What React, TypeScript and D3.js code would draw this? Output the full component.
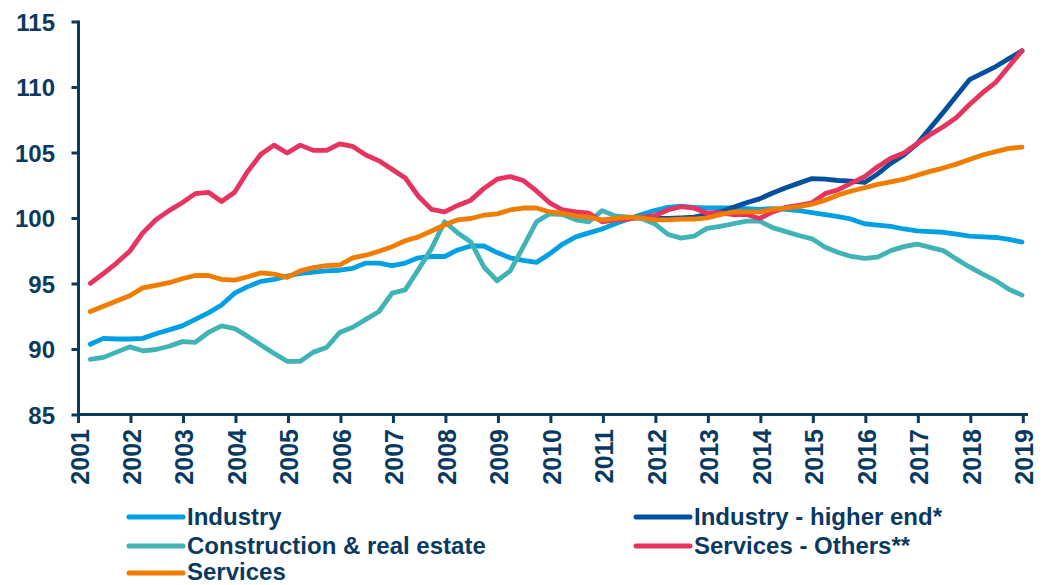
import React from "react";
import * as d3 from "d3";

const years = [2001, 2002, 2003, 2004, 2005, 2006, 2007, 2008, 2009, 2010, 2011, 2012, 2013, 2014, 2015, 2016, 2017, 2018, 2019];
const yTicks = [85, 90, 95, 100, 105, 110, 115];

// quarterly observations 2001Q1 .. 2018Q4 (index 0..71)
const quarters: string[] = [];
for (let y = 2001; y <= 2018; y++) for (let q = 1; q <= 4; q++) quarters.push(`${y}Q${q}`);

const industry = [90.4, 90.85, 90.8, 90.8, 90.85, 91.2, 91.5, 91.8, 92.3, 92.8, 93.4, 94.3, 94.8, 95.2,
  95.35, 95.6, 95.8, 95.9, 96.0, 96.05, 96.2, 96.6, 96.6, 96.4, 96.6, 97.0, 97.1, 97.1, 97.6,
  97.9, 97.9, 97.4, 97.0, 96.8, 96.65, 97.3, 98.05, 98.6, 98.9, 99.2, 99.6, 99.96, 100.3,
  100.6, 100.85, 100.95, 100.85, 100.8, 100.8, 100.8, 100.75, 100.7, 100.75, 100.7, 100.6, 100.45, 100.3, 100.15,
  99.95, 99.6, 99.5, 99.4, 99.2, 99.05, 99.0, 98.95, 98.8, 98.65, 98.6, 98.55, 98.4, 98.2];

const industryHigherEnd: (number | null)[] = [
  null, null, null, null, null, null, null, null, null, null, null, null, null, null,
  null, null, null, null, null, null, null, null, null, null, null, null, null, null,
  null, null, null, null, null, null, null, null, null, null, null, null, null, null,
  100.0, 100.0, 100.0, 100.05, 100.1, 100.3, 100.5, 100.85, 101.2, 101.5, 101.95, 102.35, 102.7, 103.05, 103.0, 102.9,
  102.85, 102.75, 103.4, 104.2, 104.85, 105.7, 106.9, 108.1, 109.35, 110.6, 111.1, 111.6, 112.2, 112.8];

const construction = [89.25, 89.4, 89.8, 90.2, 89.9, 90.0, 90.25, 90.6, 90.55, 91.3, 91.8, 91.6, 91.0, 90.35,
  89.7, 89.1, 89.1, 89.8, 90.15, 91.3, 91.7, 92.3, 92.9, 94.3, 94.55, 96.1, 97.7, 99.75, 98.9,
  98.2, 96.3, 95.25, 96.0, 97.85, 99.75, 100.35, 100.3, 99.9, 99.75, 100.6, 100.2, 100.1, 100.0,
  99.6, 98.8, 98.5, 98.65, 99.25, 99.4, 99.6, 99.8, 99.8, 99.3, 99.0, 98.7, 98.45, 97.8, 97.4,
  97.1, 96.95, 97.05, 97.55, 97.85, 98.05, 97.8, 97.55, 96.9, 96.3, 95.75, 95.25, 94.6, 94.15];

const servicesOthers = [95.05, 95.8, 96.6, 97.5, 98.9, 99.9, 100.6, 101.2, 101.9, 102.0, 101.3, 102.0, 103.6, 104.9,
  105.6, 105.0, 105.6, 105.2, 105.2, 105.7, 105.5, 104.85, 104.4, 103.75, 103.1, 101.7, 100.7, 100.5, 101.0,
  101.4, 102.3, 103.0, 103.2, 102.9, 102.1, 101.2, 100.65, 100.5, 100.4, 99.75, 99.9, 99.96, 100.1,
  100.2, 100.65, 100.9, 100.8, 100.4, 100.45, 100.3, 100.3, 100.0, 100.5, 100.85, 101.0, 101.2, 101.9, 102.2,
  102.7, 103.2, 103.95, 104.6, 105.0, 105.7, 106.4, 107.0, 107.7, 108.7, 109.6, 110.4, 111.6, 112.8];

const services = [92.9, 93.3, 93.7, 94.1, 94.7, 94.9, 95.1, 95.4, 95.65, 95.65, 95.35, 95.3, 95.55, 95.85,
  95.75, 95.5, 96.0, 96.25, 96.4, 96.45, 97.0, 97.2, 97.5, 97.85, 98.3, 98.6, 99.05, 99.5, 99.9,
  100.0, 100.25, 100.35, 100.65, 100.8, 100.8, 100.5, 100.4, 100.2, 100.1, 99.9, 100.0, 100.1, 100.05,
  99.9, 99.9, 99.95, 99.96, 100.05, 100.3, 100.5, 100.5, 100.5, 100.7, 100.8, 100.9, 101.1, 101.4, 101.8,
  102.1, 102.35, 102.6, 102.8, 103.0, 103.3, 103.6, 103.85, 104.15, 104.5, 104.85, 105.1, 105.35, 105.45];

const seriesNames = ["Industry", "Industry - higher end*", "Construction & real estate", "Services - Others**", "Services"];
const seriesColors = ["#00a0e3", "#00509d", "#3fb3b5", "#e6335f", "#f07d00"];
const seriesData = [industry, industryHigherEnd, construction, servicesOthers, services];

const AXIS = "#0a3a5f";
const FONT = "'Liberation Sans', Arial, sans-serif";

export default function App() {
  const x = d3.scaleLinear().domain([2001, 2019]).range([78.5, 1023.3]);
  const y = d3.scaleLinear().domain([85, 115]).range([415, 22]);
  const qt = (i: number) => 2001 + (i + 0.9) / 4;

  const line = d3
    .line<number | null>()
    .defined((d) => d !== null)
    .x((_, i) => x(qt(i)))
    .y((d) => y(d as number));

  const axisY = 414.5;
  const axisX = 78.5;

  const legendItems = [
    { i: 0, lx: 129, ly: 517 },
    { i: 1, lx: 636, ly: 517 },
    { i: 2, lx: 129, ly: 546 },
    { i: 3, lx: 636, ly: 546 },
    { i: 4, lx: 129, ly: 573 },
  ];

  return (
    <svg width={1043} height={585} style={{ position: "absolute", left: 0, top: 0, background: "#fff" }} fontFamily={FONT}>
      <rect width={1043} height={585} fill="#fff" />
      {/* series */}
      {seriesData.map((s, k) => (
        <path
          key={seriesNames[k]}
          d={line(s as (number | null)[]) || ""}
          fill="none"
          stroke={seriesColors[k]}
          strokeWidth={4.8}
          strokeLinejoin="round"
          strokeLinecap="round"
        />
      ))}
      {/* y axis */}
      <line x1={axisX} x2={axisX} y1={y(115) - 1.5} y2={axisY} stroke={AXIS} strokeWidth={3} />
      {yTicks.map((t) => (
        <g key={t}>
          <line x1={axisX - 7} x2={axisX} y1={y(t)} y2={y(t)} stroke={AXIS} strokeWidth={3} />
          <text x={55} y={y(t)} dy="0.36em" textAnchor="end" fontSize={24} fontWeight="bold" fill={AXIS}>
            {t}
          </text>
        </g>
      ))}
      {/* x axis */}
      <line x1={axisX - 1.5} x2={1028} y1={axisY} y2={axisY} stroke={AXIS} strokeWidth={3} />
      {years.map((yr) => (
        <g key={yr}>
          <line x1={x(yr)} x2={x(yr)} y1={axisY} y2={axisY + 8.5} stroke={AXIS} strokeWidth={3} />
          <text
            transform={`translate(${x(yr) + 1},${429}) rotate(-90)`}
            dy="0.36em"
            textAnchor="end"
            fontSize={25}
            fontWeight="bold"
            fill={AXIS}
          >
            {yr}
          </text>
        </g>
      ))}
      {/* legend */}
      {legendItems.map(({ i, lx, ly }) => (
        <g key={seriesNames[i]}>
          <line x1={lx} x2={lx + 54} y1={ly} y2={ly} stroke={seriesColors[i]} strokeWidth={5} strokeLinecap="round" />
          <text x={lx + 58} y={Math.min(ly + 8, 579.5)} fontSize={24} fontWeight="bold" fill={AXIS}>
            {seriesNames[i]}
          </text>
        </g>
      ))}
    </svg>
  );
}
